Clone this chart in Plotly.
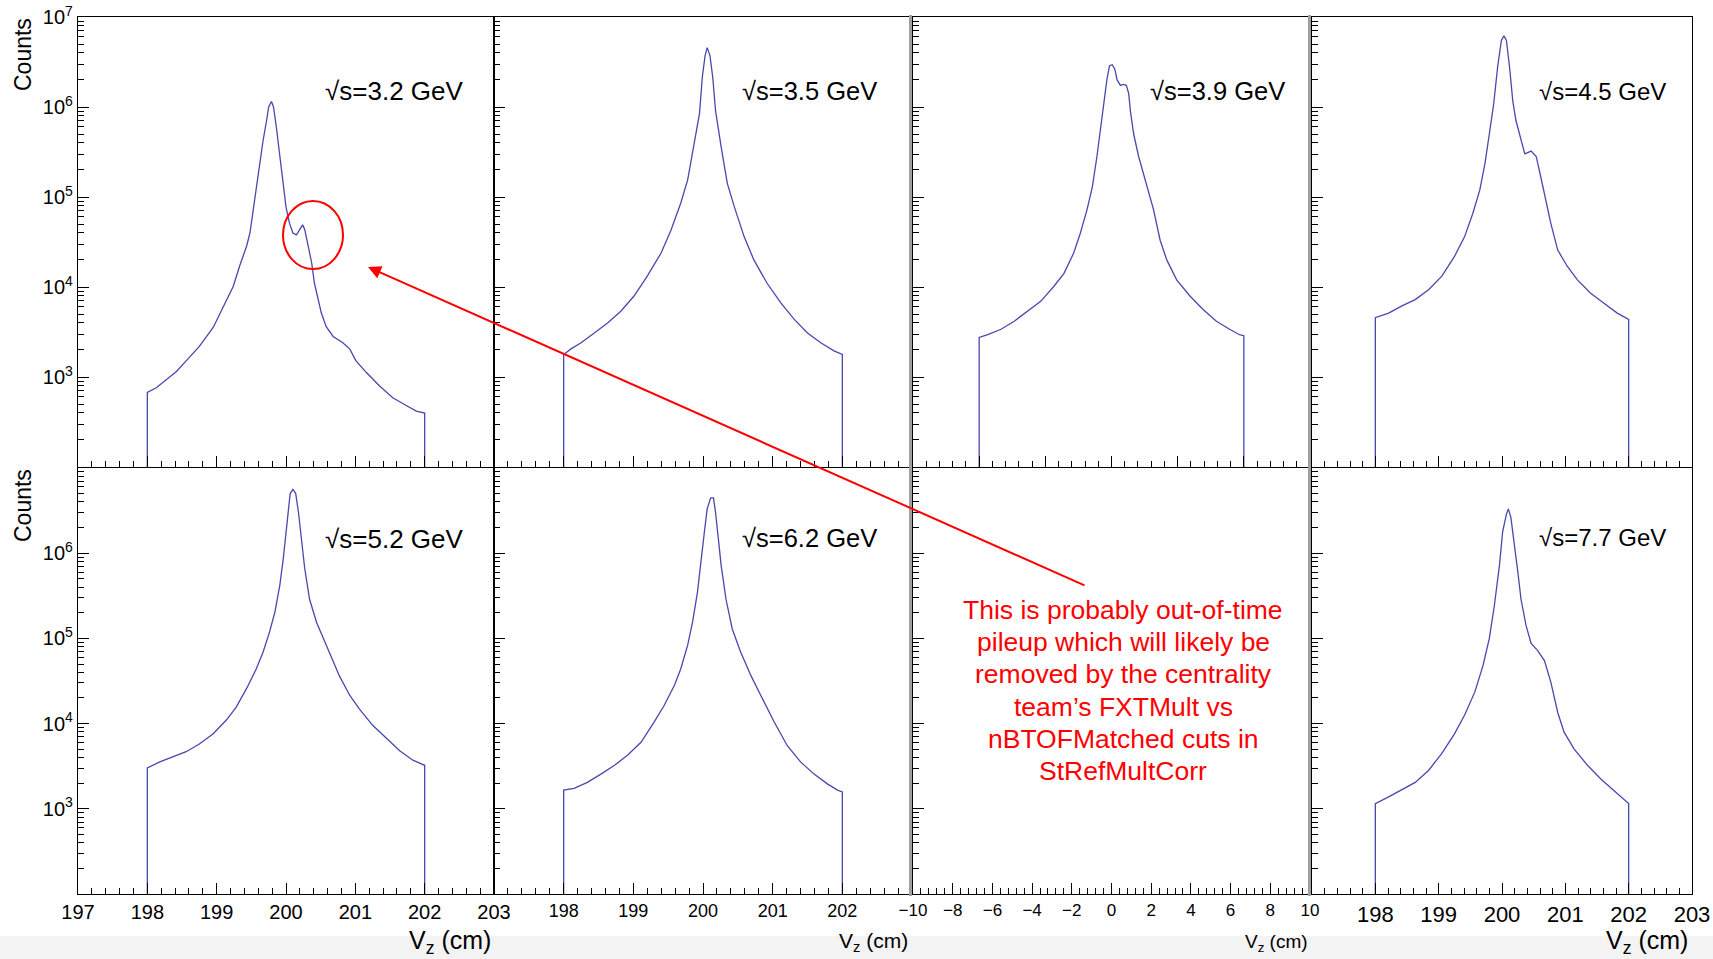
import plotly.graph_objects as go

W, H = 1713, 959


def px(x):
    return x / W


def py(y):
    return 1 - y / H


# ---------------- data ----------------
energy_labels = ["√s=3.2 GeV", "√s=3.5 GeV", "√s=3.9 GeV", "√s=4.5 GeV",
                 "√s=5.2 GeV", "√s=6.2 GeV", None, "√s=7.7 GeV"]

vz_32 = [198.00, 198.13, 198.27, 198.42, 198.56, 198.75, 198.95, 199.14, 199.24, 199.33,
         199.43, 199.48, 199.52, 199.57, 199.62, 199.67, 199.72, 199.75, 199.79, 199.82,
         199.86, 199.91, 199.96, 200.00, 200.05, 200.10, 200.15, 200.20, 200.24, 200.27,
         200.32, 200.37, 200.41, 200.46, 200.51, 200.58, 200.68, 200.82, 200.92, 201.01,
         201.16, 201.35, 201.54, 201.74, 201.88, 202.00]
counts_32 = [676, 759, 933, 1150, 1510, 2190, 3550, 6920, 10200, 17000,
             28200, 39800, 66100, 110000, 219000, 427000, 708000, 1000000, 1150000, 1000000,
             603000, 302000, 155000, 77600, 51300, 39800, 38000, 43700, 49000, 43700,
             28200, 18600, 11000, 7240, 5130, 3630, 2820, 2400, 2040, 1510,
             1120, 794, 589, 479, 417, 398]

vz_35 = [198.00, 198.10, 198.25, 198.44, 198.63, 198.82, 199.01, 199.20, 199.40, 199.54,
         199.68, 199.78, 199.87, 199.95, 199.99, 200.03, 200.06, 200.10, 200.14, 200.18,
         200.26, 200.35, 200.45, 200.59, 200.73, 200.92, 201.12, 201.31, 201.50, 201.69,
         201.88, 202.00]
counts_35 = [1780, 2040, 2400, 3090, 3980, 5370, 7940, 13200, 24000, 42700,
             85100, 155000, 363000, 851000, 2140000, 3720000, 4570000, 3720000, 2140000, 912000,
             363000, 141000, 77600, 36300, 20000, 11000, 6610, 4370, 3090, 2400,
             1950, 1780]

vz_39 = [-2.00, -1.87, -1.67, -1.47, -1.27, -1.07, -0.87, -0.72, -0.57, -0.47,
         -0.37, -0.29, -0.22, -0.17, -0.12, -0.07, -0.03, 0.01, 0.05, 0.085,
         0.135, 0.175, 0.225, 0.26, 0.285, 0.335, 0.41, 0.485, 0.56, 0.635,
         0.735, 0.835, 0.985, 1.185, 1.385, 1.585, 1.785, 1.935, 2.00]
counts_39 = [2750, 2950, 3390, 4170, 5370, 6920, 10200, 14100, 24000, 39800,
             72400, 129000, 282000, 550000, 1100000, 2000000, 2880000, 2950000, 2630000, 2000000,
             1740000, 1780000, 1740000, 1410000, 912000, 501000, 282000, 182000, 120000, 72400,
             33100, 20000, 12000, 7940, 5620, 4170, 3390, 2950, 2880]

vz_45 = [198.00, 198.21, 198.42, 198.63, 198.84, 199.05, 199.25, 199.41, 199.54, 199.65,
         199.73, 199.80, 199.87, 199.93, 199.99, 200.03, 200.07, 200.12, 200.17, 200.22,
         200.30, 200.36, 200.46, 200.54, 200.61, 200.69, 200.77, 200.88, 201.03, 201.19,
         201.40, 201.61, 201.82, 202.00]
counts_45 = [4570, 5130, 6170, 7240, 9330, 13200, 21900, 36300, 66100, 120000,
             234000, 501000, 1100000, 2750000, 5500000, 6170000, 5500000, 2750000, 1170000, 708000,
             427000, 302000, 324000, 282000, 170000, 93300, 51300, 25700, 17000, 12000,
             8510, 6610, 5130, 4370]

vz_52 = [198.00, 198.18, 198.37, 198.56, 198.75, 198.95, 199.14, 199.28, 199.43, 199.57,
         199.67, 199.76, 199.84, 199.91, 199.96, 200.00, 200.03, 200.06, 200.10, 200.14,
         200.18, 200.22, 200.27, 200.34, 200.44, 200.56, 200.68, 200.77, 200.92, 201.06,
         201.25, 201.45, 201.64, 201.83, 202.00]
counts_52 = [3020, 3550, 4070, 4680, 5750, 7590, 11000, 15500, 25700, 43700,
             69200, 117000, 204000, 417000, 851000, 1780000, 3310000, 5010000, 5620000, 5010000,
             3020000, 1480000, 661000, 288000, 155000, 91200, 52500, 36300, 21400, 14800,
             9550, 6610, 4790, 3720, 3240]

vz_62 = [198.00, 198.15, 198.34, 198.54, 198.73, 198.92, 199.11, 199.30, 199.44, 199.59,
         199.68, 199.78, 199.85, 199.92, 199.97, 200.02, 200.06, 200.11, 200.15, 200.18,
         200.22, 200.26, 200.33, 200.42, 200.54, 200.69, 200.83, 201.02, 201.21, 201.40,
         201.59, 201.79, 201.93, 202.00]
counts_62 = [1660, 1740, 2040, 2570, 3240, 4270, 6030, 10500, 16200, 28200,
             43700, 83200, 155000, 347000, 851000, 1780000, 3310000, 4470000, 4470000, 3020000,
             1480000, 724000, 288000, 129000, 69200, 36300, 21400, 10500, 5500, 3550,
             2570, 1950, 1660, 1580]

vz_77 = [198.00, 198.21, 198.42, 198.63, 198.84, 199.05, 199.25, 199.41, 199.57, 199.70,
         199.80, 199.88, 199.96, 200.01, 200.07, 200.10, 200.14, 200.20, 200.25, 200.30,
         200.38, 200.46, 200.56, 200.67, 200.77, 200.88, 200.98, 201.14, 201.35, 201.56,
         201.76, 202.00]
counts_77 = [1150, 1380, 1660, 2040, 2820, 4470, 7590, 12600, 23400, 47900,
             100000, 245000, 724000, 1780000, 2880000, 3310000, 2630000, 1230000, 603000, 288000,
             141000, 87100, 72400, 55000, 30900, 13500, 7940, 5010, 3240, 2240,
             1660, 1150]

panel_data = [(vz_32, counts_32), (vz_35, counts_35), (vz_39, counts_39), (vz_45, counts_45),
              (vz_52, counts_52), (vz_62, counts_62), None, (vz_77, counts_77)]

# axis ranges and ticks
x_ranges = [[197, 203], [197, 203], [-3, 3], [197, 203],
            [197, 203], [197, 203], [-10, 10], [197, 203]]
x_minor = [0.2, 0.2, 0.2, 0.2, 0.2, 0.2, 0.4, 0.2]
tick_vals_p5 = [197, 198, 199, 200, 201, 202, 203]
tick_vals_p6 = [198, 199, 200, 201, 202]
tick_vals_p7 = [-10, -8, -6, -4, -2, 0, 2, 4, 6, 8, 10]
tick_text_p7 = ["−10", "−8", "−6", "−4", "−2", "0", "2", "4", "6", "8", "10"]
tick_vals_p8 = [198, 199, 200, 201, 202, 203]

y_vals_top = [1e3, 1e4, 1e5, 1e6, 1e7]
y_text_top = ["10<sup>3</sup>", "10<sup>4</sup>", "10<sup>5</sup>", "10<sup>6</sup>", "10<sup>7</sup>"]
y_vals_bottom = [1e3, 1e4, 1e5, 1e6]
y_text_bottom = ["10<sup>3</sup>", "10<sup>4</sup>", "10<sup>5</sup>", "10<sup>6</sup>"]
y_minor_vals = [k * 10 ** n for n in range(2, 7) for k in range(2, 10)]
y_floor = 1e2

note_lines = ["This is probably out-of-time", "pileup which will likely be",
              "removed by the centrality", "team’s FXTMult vs",
              "nBTOFMatched cuts in", "StRefMultCorr"]

# ---------------- layout geometry (pixels) ----------------
cols = [(78, 494), (494, 912), (913, 1310), (1312, 1692)]
rows = [(17, 467), (468, 894)]

FONT = "Liberation Sans, Arial, Helvetica, sans-serif"
LINE_COLOR = "#4848ae"

fig = go.Figure()
layout = dict(width=W, height=H, margin=dict(l=0, r=0, t=0, b=0, pad=0, autoexpand=False),
              paper_bgcolor="white", plot_bgcolor="rgba(0,0,0,0)",
              showlegend=False, font=dict(family=FONT, color="black"))

xlabel_sizes = [20, 18, 17, 22]
for i in range(8):
    r, c = divmod(i, 4)
    n = i + 1
    xa = "xaxis" if n == 1 else f"xaxis{n}"
    ya = "yaxis" if n == 1 else f"yaxis{n}"
    xref = "x" if n == 1 else f"x{n}"
    yref = "y" if n == 1 else f"y{n}"
    x0, x1 = cols[c]
    y0, y1 = rows[r]

    xax = dict(domain=[px(x0), px(x1)], range=x_ranges[i], anchor=yref, automargin=False,
               showline=True, linecolor="black", linewidth=1.2, mirror=True,
               ticks="inside", ticklen=11, tickwidth=1.2, tickcolor="black",
               showgrid=False, zeroline=False,
               minor=dict(ticks="inside", ticklen=6, tickwidth=1, tickcolor="black",
                          tickmode="linear", tick0=x_ranges[i][0], dtick=x_minor[i],
                          showgrid=False))
    if i == 6:
        xax.update(tickmode="array", tickvals=tick_vals_p7, ticktext=tick_text_p7)
    elif i == 5:
        xax.update(tickmode="array", tickvals=tick_vals_p6)
    elif i == 7:
        xax.update(tickmode="array", tickvals=tick_vals_p8)
    elif i == 2:
        xax.update(tickmode="linear", tick0=-3, dtick=1)
    else:
        xax.update(tickmode="array", tickvals=tick_vals_p5)
    if r == 0:
        xax.update(showticklabels=False)
    else:
        xax.update(showticklabels=True, tickfont=dict(size=xlabel_sizes[c], family=FONT))

    yax = dict(domain=[py(y1), py(y0)], type="log", range=[2, 7], anchor=xref, automargin=False,
               showline=True, linecolor="black", linewidth=1.2, mirror=True,
               ticks="inside", ticklen=11, tickwidth=1.2, tickcolor="black",
               showgrid=False, zeroline=False,
               tickmode="array",
               tickvals=y_vals_top if r == 0 else y_vals_bottom,
               ticktext=y_text_top if r == 0 else y_text_bottom,
               showticklabels=(c == 0), tickfont=dict(size=20, family=FONT),
               minor=dict(ticks="inside", ticklen=6, tickwidth=1, tickcolor="black",
                          tickmode="array", tickvals=y_minor_vals, showgrid=False))
    layout[xa] = xax
    layout[ya] = yax

    if panel_data[i] is not None:
        vz, cnt = panel_data[i]
        xs = [vz[0]] + list(vz) + [vz[-1]]
        ys = [y_floor] + list(cnt) + [y_floor]
        fig.add_trace(go.Scatter(x=xs, y=ys, mode="lines", xaxis=xref, yaxis=yref,
                                 line=dict(color=LINE_COLOR, width=1.3, shape="linear"),
                                 hoverinfo="skip"))
    else:
        fig.add_trace(go.Scatter(x=[0], y=[1e4], mode="markers", xaxis=xref, yaxis=yref,
                                 marker=dict(opacity=0), hoverinfo="skip"))

fig.update_layout(**layout)

annotations = []
# energy labels
label_pos = [(323, 91, 26), (740, 91, 25.5), (1148, 91, 25.5), (1537, 91, 24),
             (323, 539, 26), (740, 538, 25.5), None, (1537, 537, 24)]
for i, lab in enumerate(energy_labels):
    if lab is None:
        continue
    lx, ly, ls = label_pos[i]
    annotations.append(dict(x=px(lx), y=py(ly), xref="paper", yref="paper",
                            xanchor="left", yanchor="middle", showarrow=False,
                            text=lab, font=dict(size=ls, family=FONT, color="black")))

# "Counts" titles
for cy in (55, 506):
    annotations.append(dict(x=px(23), y=py(cy), xref="paper", yref="paper",
                            xanchor="center", yanchor="middle", showarrow=False,
                            textangle=-90, text="Counts",
                            font=dict(size=23, family=FONT, color="black")))

# V_z titles
vz_titles = [(493, 942, 25), (910, 942, 21), (1310, 943, 19), (1690, 942, 25)]
for tx, ty, ts in vz_titles:
    annotations.append(dict(x=px(tx), y=py(ty), xref="paper", yref="paper",
                            xanchor="right", yanchor="middle", showarrow=False,
                            text="V<sub>z</sub> (cm)",
                            font=dict(size=ts, family=FONT, color="black")))

# red note text, one line each
note_y = [610, 642, 674, 707, 739, 771]
for line, ly in zip(note_lines, note_y):
    annotations.append(dict(x=px(1123), y=py(ly), xref="paper", yref="paper",
                            xanchor="center", yanchor="middle", showarrow=False,
                            text=line, font=dict(size=26.5, family=FONT, color="#ff0000")))

# red arrow
annotations.append(dict(x=px(368), y=py(267), xref="paper", yref="paper",
                        ax=1086 - 368, ay=586 - 267, axref="pixel", ayref="pixel",
                        showarrow=True, arrowhead=2, arrowsize=1.3, arrowwidth=2,
                        arrowcolor="#ff0000", text=""))

shapes = [
    dict(type="rect", xref="paper", yref="paper", x0=0, x1=1, y0=0, y1=py(936),
         fillcolor="#f3f3f3", line=dict(width=0), layer="below"),
    dict(type="line", xref="paper", yref="paper", x0=px(910.5), x1=px(910.5),
         y0=py(896), y1=py(15), line=dict(color="#a0a0a0", width=3)),
    dict(type="line", xref="paper", yref="paper", x0=px(1309.5), x1=px(1309.5),
         y0=py(896), y1=py(15), line=dict(color="#a0a0a0", width=3)),
    dict(type="circle", xref="paper", yref="paper", x0=px(283), x1=px(343),
         y0=py(269), y1=py(201), line=dict(color="#ff0000", width=2)),
]

fig.update_layout(annotations=annotations, shapes=shapes)
fig.write_html("out.html")
